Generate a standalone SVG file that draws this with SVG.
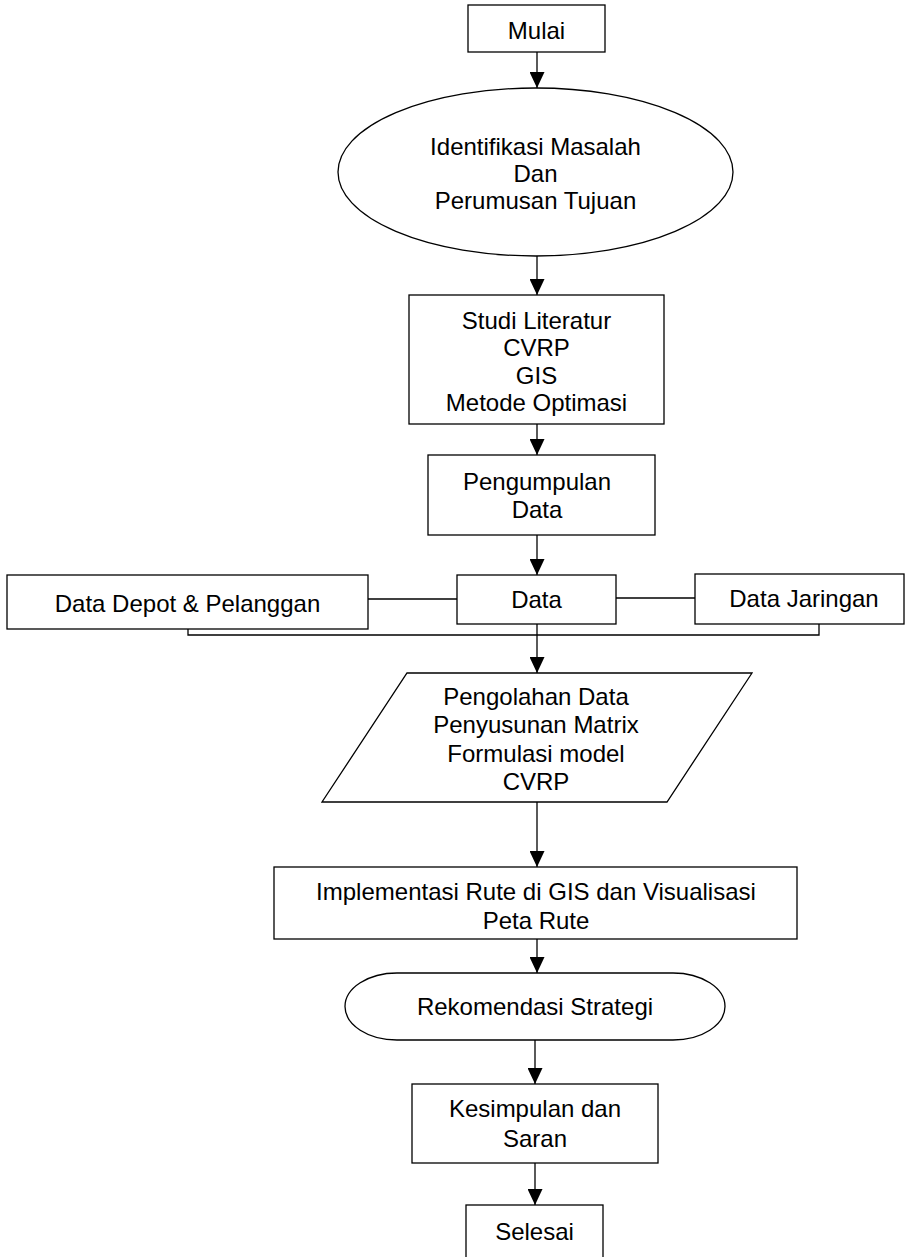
<svg xmlns="http://www.w3.org/2000/svg" width="905" height="1257" viewBox="0 0 905 1257">
<defs>
<style>
.s{fill:#fff;stroke:#000;stroke-width:1.3}
.t{font-family:"Liberation Sans",Arial,sans-serif;font-size:24px;fill:#000;text-anchor:middle}
.c{fill:none;stroke:#000;stroke-width:1.3}
</style>
<marker id="ah" viewBox="0 0 16 15" refX="16" refY="7.5" markerWidth="16" markerHeight="15" markerUnits="userSpaceOnUse" orient="auto">
<path d="M0,0 L16,7.5 L0,15 z" fill="#000"/>
</marker>
</defs>
<rect width="905" height="1257" fill="#fff"/>
<g id="connectors">
<line class="c" x1="537" y1="52" x2="537" y2="88" marker-end="url(#ah)"/>
<line class="c" x1="537" y1="256" x2="537" y2="295" marker-end="url(#ah)"/>
<line class="c" x1="537" y1="424" x2="537" y2="455" marker-end="url(#ah)"/>
<line class="c" x1="537" y1="535" x2="537" y2="575" marker-end="url(#ah)"/>
<line class="c" x1="368" y1="599" x2="457" y2="599"/>
<line class="c" x1="616" y1="598" x2="695" y2="598"/>
<polyline class="c" points="188,629 188,635 819,635 819,624"/>
<line class="c" x1="537" y1="624" x2="537" y2="673" marker-end="url(#ah)"/>
<line class="c" x1="537" y1="802" x2="537" y2="867" marker-end="url(#ah)"/>
<line class="c" x1="537" y1="939" x2="537" y2="973" marker-end="url(#ah)"/>
<line class="c" x1="535" y1="1040" x2="535" y2="1084" marker-end="url(#ah)"/>
<line class="c" x1="535" y1="1163" x2="535" y2="1205" marker-end="url(#ah)"/>
</g>
<g id="mulai">
<rect class="s" x="468" y="5" width="137" height="47"/>
<text class="t" x="536.5" y="39">Mulai</text>
</g>
<g id="identifikasi">
<ellipse class="s" cx="535.5" cy="172" rx="197.5" ry="84"/>
<text class="t" x="535.5" y="155">Identifikasi Masalah</text>
<text class="t" x="535.5" y="182">Dan</text>
<text class="t" x="535.5" y="209">Perumusan Tujuan</text>
</g>
<g id="studi">
<rect class="s" x="409" y="295" width="255" height="129"/>
<text class="t" x="536.5" y="329">Studi Literatur</text>
<text class="t" x="536.5" y="356">CVRP</text>
<text class="t" x="536.5" y="384">GIS</text>
<text class="t" x="536.5" y="411">Metode Optimasi</text>
</g>
<g id="pengumpulan">
<rect class="s" x="428" y="455" width="227" height="80"/>
<text class="t" x="537" y="490">Pengumpulan</text>
<text class="t" x="537" y="518">Data</text>
</g>
<g id="data-depot">
<rect class="s" x="7" y="575" width="361" height="54"/>
<text class="t" x="187.5" y="612">Data Depot &amp; Pelanggan</text>
</g>
<g id="data">
<rect class="s" x="457" y="575" width="159" height="49"/>
<text class="t" x="536.5" y="608">Data</text>
</g>
<g id="data-jaringan">
<rect class="s" x="695" y="574" width="209" height="50"/>
<text class="t" x="804" y="607">Data Jaringan</text>
</g>
<g id="pengolahan">
<polygon class="s" points="407,673 752,673 667,802 322,802"/>
<text class="t" x="536" y="705">Pengolahan Data</text>
<text class="t" x="536" y="733">Penyusunan Matrix</text>
<text class="t" x="536" y="762">Formulasi model</text>
<text class="t" x="536" y="790">CVRP</text>
</g>
<g id="implementasi">
<rect class="s" x="274" y="867" width="523" height="72"/>
<text class="t" x="536" y="900">Implementasi Rute di GIS dan Visualisasi</text>
<text class="t" x="536" y="929">Peta Rute</text>
</g>
<g id="rekomendasi">
<rect class="s" x="345" y="973" width="380" height="67" rx="52" ry="33.5"/>
<text class="t" x="535" y="1015">Rekomendasi Strategi</text>
</g>
<g id="kesimpulan">
<rect class="s" x="412" y="1084" width="246" height="79"/>
<text class="t" x="535" y="1117">Kesimpulan dan</text>
<text class="t" x="535" y="1147">Saran</text>
</g>
<g id="selesai">
<rect class="s" x="466" y="1205" width="137" height="62"/>
<text class="t" x="534.5" y="1240">Selesai</text>
</g>
</svg>
